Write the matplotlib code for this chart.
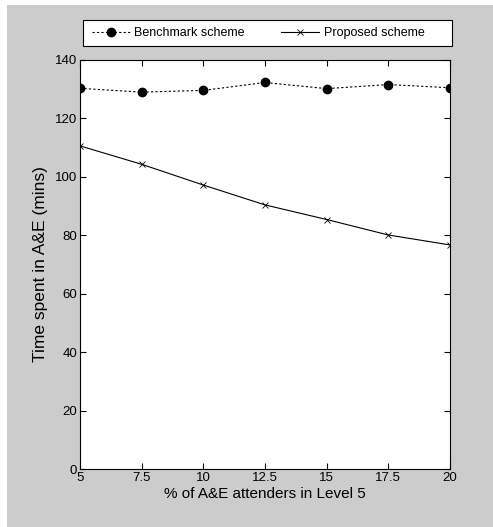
import numpy as np
import matplotlib
matplotlib.use('Agg')
import matplotlib.pyplot as plt
from matplotlib.patches import Rectangle

plt.rcParams['font.family'] = ['Liberation Sans', 'DejaVu Sans']

# % of A&E attenders in Level 5
pct = [5, 7.5, 10, 12.5, 15, 17.5, 20]
benchmark = [130.3, 129.0, 129.6, 132.3, 130.2, 131.6, 130.5]
proposed = [110.6, 104.3, 97.2, 90.4, 85.4, 80.1, 76.7]
xticks = [5, 7.5, 10, 12.5, 15, 17.5, 20]
xticklabels = ['5', '7.5', '10', '12.5', '15', '17.5', '20']
yticks = [0, 20, 40, 60, 80, 100, 120, 140]

W, H = 493, 527
fig = plt.figure(figsize=(W/100, H/100), dpi=100, facecolor='white')
# gray window background, offset like the screenshot
fig.patches.append(Rectangle((7/W, 0), 1, 1 - 5/H, transform=fig.transFigure,
                             facecolor='#cccccc', edgecolor='none', zorder=-10))

ax = fig.add_axes([80/W, 1 - 469/H, 370/W, 409/H])
ax.set_facecolor('white')
l1, = ax.plot(pct, benchmark, color='black', linestyle=(0, (2, 2)), linewidth=0.8,
              marker='o', markersize=6, label='Benchmark scheme')
l2, = ax.plot(pct, proposed, color='black', linestyle='-', linewidth=0.8,
              marker='x', markersize=5, markeredgewidth=0.6, label='Proposed scheme')

ax.set_xlim(5, 20)
ax.set_ylim(0, 140)
ax.set_xticks(xticks)
ax.set_xticklabels(xticklabels)
ax.set_yticks(yticks)
ax.tick_params(direction='in', top=True, right=True, length=4, width=0.8,
               labelsize=9.5, pad=2)
for s in ax.spines.values():
    s.set_linewidth(0.8)

ax.set_xlabel('% of A&E attenders in Level 5', fontsize=11, labelpad=2)
ax.set_ylabel('Time spent in A&E (mins)', fontsize=12.5, labelpad=5)

# legend box above the axes
fig.patches.append(Rectangle((83/W, 1 - 46/H), 369/W, 26/H, transform=fig.transFigure,
                             facecolor='white', edgecolor='black', linewidth=0.8))
leg = fig.legend(handles=[l1, l2], loc='center left', ncol=2,
                 bbox_to_anchor=(92/W, 1 - 33/H), fontsize=9,
                 frameon=False, borderpad=0, borderaxespad=0,
                 handlelength=3.0, handletextpad=0.4, columnspacing=2.9)

fig.savefig('out.png', dpi=100, facecolor=fig.get_facecolor())
